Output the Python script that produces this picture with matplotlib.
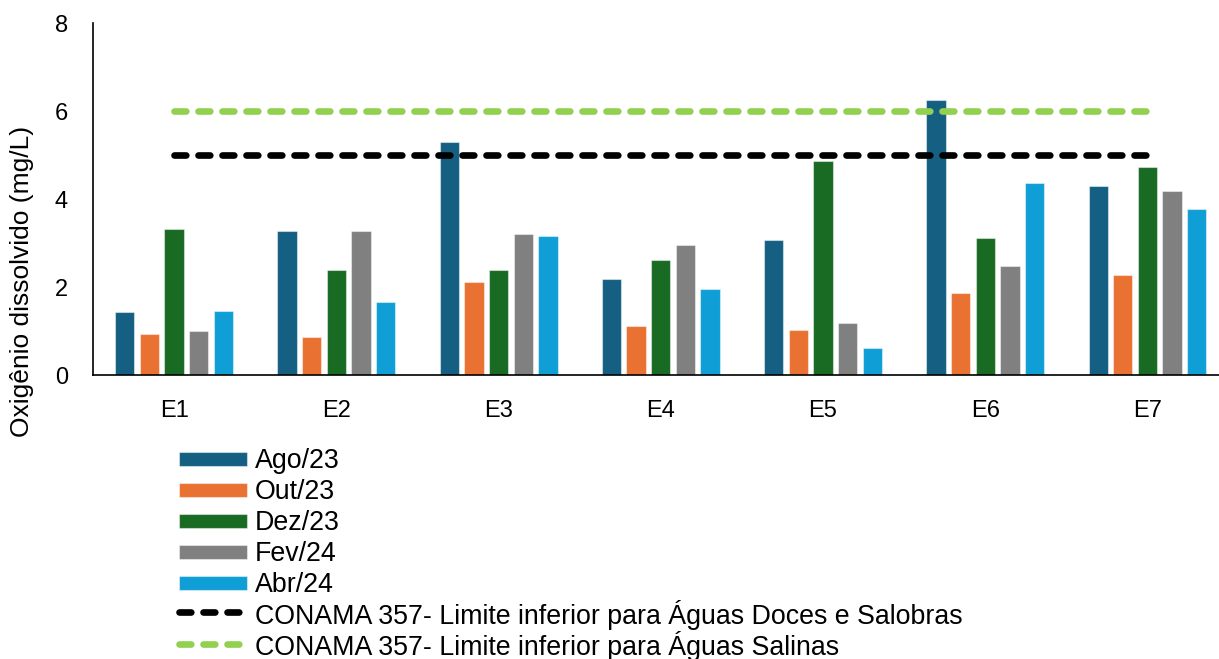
import matplotlib
matplotlib.use("Agg")
import matplotlib.pyplot as plt
from matplotlib.patches import Rectangle
from matplotlib.container import BarContainer
from matplotlib.legend_handler import HandlerPatch, update_from_first_child
import numpy as np

plt.rcParams['font.family'] = ['Liberation Sans', 'DejaVu Sans']

categories = ["E1", "E2", "E3", "E4", "E5", "E6", "E7"]
series_names = ["Ago/23", "Out/23", "Dez/23", "Fev/24", "Abr/24"]
ago23 = [1.43, 3.27, 5.31, 2.20, 3.08, 6.25, 4.30]
out23 = [0.95, 0.86, 2.12, 1.11, 1.04, 1.86, 2.29]
dez23 = [3.33, 2.40, 2.40, 2.61, 4.87, 3.13, 4.74]
fev24 = [1.01, 3.29, 3.22, 2.97, 1.18, 2.49, 4.18]
abr24 = [1.47, 1.66, 3.16, 1.97, 0.62, 4.36, 3.79]
colors = ["#156082", "#E97132", "#196B24", "#808080", "#0F9ED5"]
limit_doce = 5
limit_salina = 6
limit_names = ["CONAMA 357- Limite inferior para Águas Doces e Salobras",
               "CONAMA 357- Limite inferior para Águas Salinas"]
yticks = [0, 2, 4, 6, 8]

W, H = 1219, 659
fig = plt.figure(figsize=(W / 100, H / 100), dpi=100)
ax_left, ax_w = 93, 1135.6
ax_top, ax_bot = 23.3, 375.3
ax = fig.add_axes([ax_left / W, 1 - ax_bot / H, ax_w / W, (ax_bot - ax_top) / H])

x = np.arange(len(categories))
step = 0.152
width = 0.119
handles = []
for i, (vals, c, name) in enumerate(zip([ago23, out23, dez23, fev24, abr24], colors, series_names)):
    h = ax.bar(x + (i - 2) * step, vals, width, color=c, label=name, zorder=2,
               edgecolor=(1, 1, 1, 0.45), linewidth=0.8)
    handles.append(h)

lw = 4.8
dash = (1.77, 1.83)
l1, = ax.plot([x[0], x[-1]], [limit_doce] * 2, color="black", lw=lw,
              dashes=dash, dash_capstyle="round", label=limit_names[0], zorder=3)
l2, = ax.plot([x[0], x[-1]], [limit_salina] * 2, color="#92D050", lw=lw,
              dashes=dash, dash_capstyle="round", label=limit_names[1], zorder=3)
handles += [l1, l2]

ax.set_xlim(-0.5, 6.5)
ax.set_ylim(0, 8)
ax.set_yticks(yticks)
ax.set_xticks(x)
ax.set_xticklabels(categories)
ax.tick_params(axis="both", length=0, labelsize=17)
ax.tick_params(axis="x", pad=18)
ax.tick_params(axis="y", pad=18)
for s in ["top", "right"]:
    ax.spines[s].set_visible(False)
ax.spines["left"].set_linewidth(1.2)
ax.spines["bottom"].set_linewidth(1.2)

fig.text(22 / W, 1 - 281 / H, "Oxigênio dissolvido (mg/L)", rotation=90,
         ha="center", va="center", fontsize=19)

patch_h_pt = 14 * 72 / 100


def thin_rect(legend, orig_handle, xdescent, ydescent, width, height, fontsize):
    return Rectangle((-xdescent, -ydescent + (height - patch_h_pt) / 2), width, patch_h_pt)


fig.legend(handles=handles, loc="upper left", bbox_to_anchor=(0.1466, 0.3250),
           frameon=False, fontsize=19.25, handlelength=2.55, handleheight=1.25,
           labelspacing=0.068, handletextpad=0.3, borderaxespad=0, borderpad=0,
           handler_map={BarContainer: HandlerPatch(patch_func=thin_rect,
                                                   update_func=update_from_first_child)})

fig.savefig("out.png", dpi=100)
